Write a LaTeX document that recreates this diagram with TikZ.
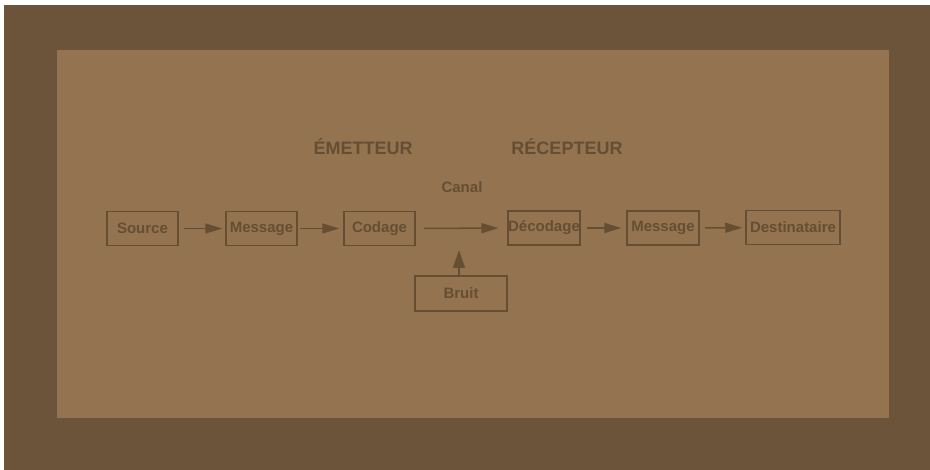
\documentclass[tikz,border=0pt]{standalone}
\usepackage{fontspec}
\setmainfont{Liberation Sans}
\usetikzlibrary{arrows.meta}
\definecolor{frame}{HTML}{6B543A}
\definecolor{panel}{HTML}{947350}
\definecolor{ink}{HTML}{664E32}
\tikzset{
  blk/.style={draw=ink, line width=1.5pt, text=ink, inner sep=0pt,
    minimum height=34pt, font=\fontsize{15}{17}\selectfont\bfseries},
  flow/.style={draw=ink, line width=1.5pt,
    -{Triangle[length=17pt,width=10pt]}},
  head/.style={text=ink, font=\fontsize{18}{20}\selectfont\bfseries},
  lbl/.style={text=ink, font=\fontsize{15}{17}\selectfont\bfseries}
}
\begin{document}
\begin{tikzpicture}[x=1pt,y=-1pt]
  % page and frame
  \fill[white] (0,0) rectangle (930,470);
  \useasboundingbox (0,0) rectangle (930,470);
  \fill[frame] (4,5) rectangle (930,470);
  \fill[panel] (57,50) rectangle (889,418);

  % section headings
  \node[head] (em) at (363,147) {ÉMETTEUR};
  \node[head] (rec) at (567,147) {RÉCEPTEUR};
  \node[lbl] (canal) at (462,187) {Canal};

  % chain of blocks
  \node[blk, minimum width=71pt] (src) at (142.5,228.5) {Source};
  \node[blk, minimum width=71pt] (msg1) at (261.5,228.5) {Message};
  \node[blk, minimum width=71pt] (cod) at (379.5,228.5) {Codage};
  \node[blk, minimum width=70pt] (dec) at (544,228) {Décodage};
  \node[blk, minimum width=72pt] (msg2) at (663,228) {Message};
  \node[blk, minimum width=94pt] (dst) at (793,227.5) {Destinataire};
  \node[blk, minimum width=92pt, minimum height=35pt] (bruit) at (461,293.5) {Bruit};
  \coordinate (noise) at (459,250);

  % connectors
  \draw[flow, shorten <=5pt, shorten >=3pt] (src) -- (msg1);
  \draw[flow, shorten <=2pt, shorten >=4pt] (msg1) -- (cod);
  \draw[flow, shorten <=8pt, shorten >=9pt] (cod) -- (dec);
  \draw[flow, shorten <=6pt, shorten >=5pt] (dec) -- (msg2);
  \draw[flow, shorten <=5pt, shorten >=3pt] (msg2) -- (dst);
  \draw[flow, -{Triangle[length=18pt,width=12pt]}] (bruit.north -| noise) -- (noise);
\end{tikzpicture}
\end{document}
